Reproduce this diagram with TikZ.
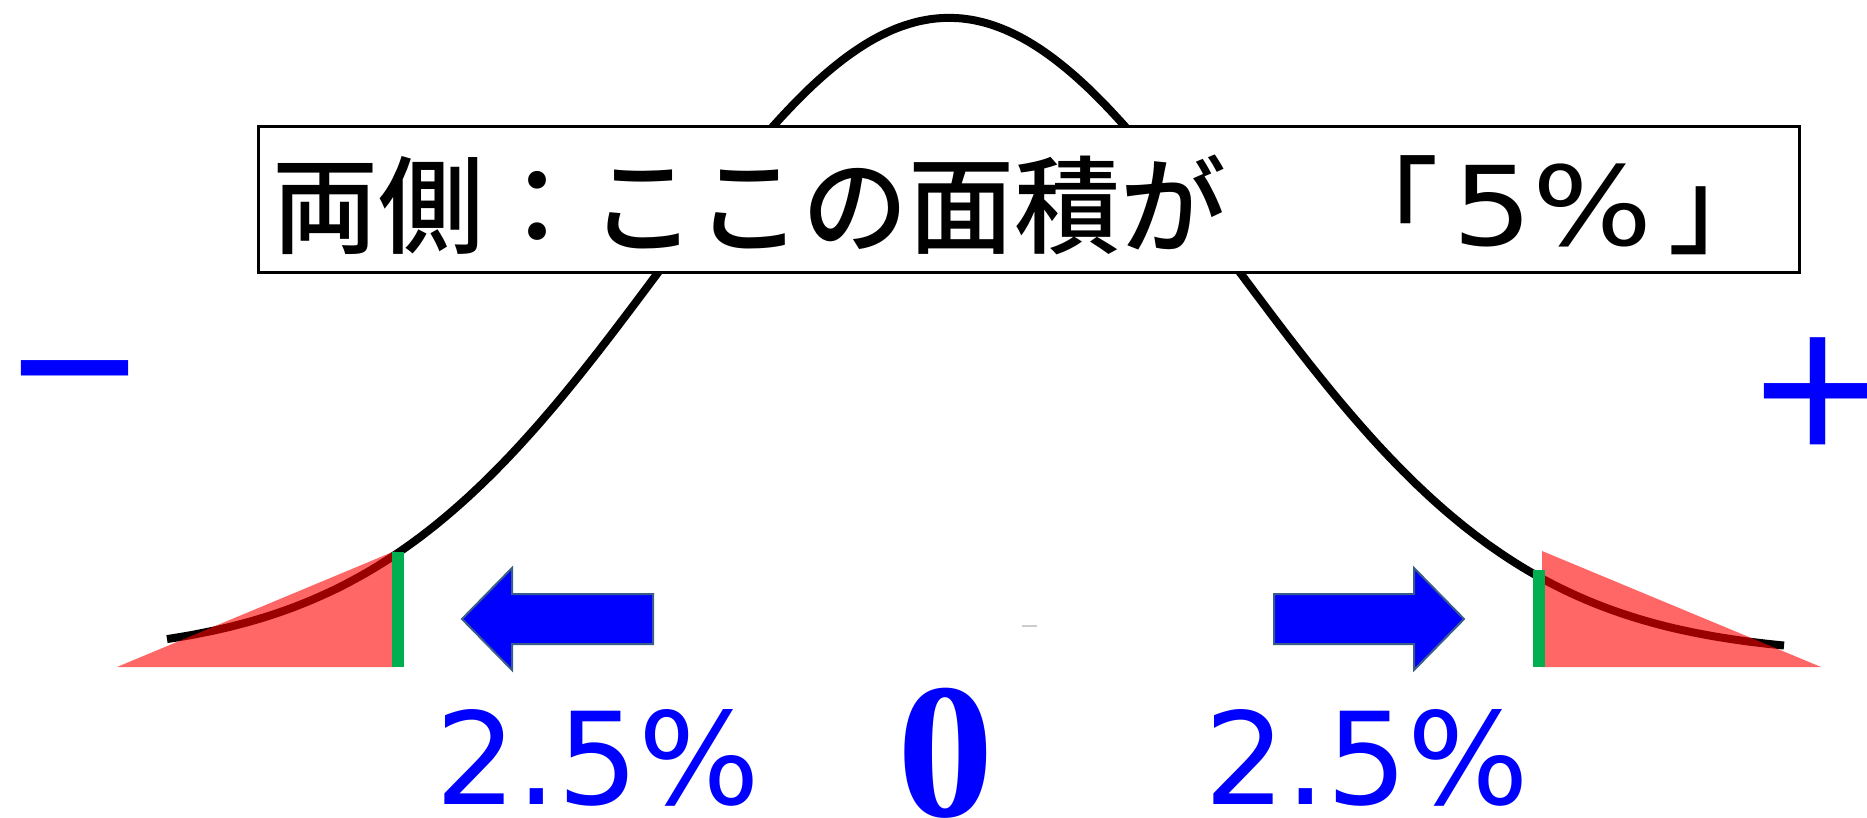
\documentclass[tikz,border=0pt]{standalone}
\usepackage{fontspec}
\newfontfamily\jpfont{Noto Sans CJK JP Medium}
\newfontfamily\jpbold{Noto Sans CJK JP Bold}
\newfontfamily\dvsfont{DejaVu Sans}
\newfontfamily\serfont{Liberation Serif}
\definecolor{outlineblue}{RGB}{56,93,138}
\definecolor{tailgreen}{RGB}{0,176,80}
\tikzset{
  curve/.style={line width=8pt, black},
  tailarea/.style={fill=red, fill opacity=0.6, draw=none},
  cutline/.style={draw=tailgreen, line width=12pt},
  blockarrow/.style={fill=blue, draw=outlineblue, line width=2pt, line join=miter},
  labelbox/.style={draw=black, line width=3pt, fill=white, inner sep=0pt},
  boxtext/.style={inner sep=0pt, font=\jpfont\fontsize{106}{110}\selectfont},
  pct/.style={inner sep=0pt, text=blue, font=\dvsfont\fontsize{128}{130}\selectfont},
  zero/.style={inner sep=0pt, text=blue, font=\serfont\bfseries\fontsize{193}{200}\selectfont},
  sign/.style={inner sep=0pt, text=blue, font=\jpbold\fontsize{151}{155}\selectfont}
}
\begin{document}
\begin{tikzpicture}[x=1pt,y=-1pt]
\useasboundingbox (0,0) rectangle (1867,818);
% normal curve
\draw[curve] plot[domain=167:1784, samples=300, smooth] (\x, {655-637*exp(-0.5*((\x-949)/288)^2)});
% tail areas
\fill[tailarea] (117,667) -- (395,551) -- (395,667) -- cycle;
\fill[tailarea] (1542,551) -- (1821,667) -- (1542,667) -- cycle;
% critical lines
\coordinate (lgtop) at (398,552);
\coordinate (lgbot) at (398,667);
\coordinate (rgtop) at (1538.5,570);
\coordinate (rgbot) at (1538.5,667);
\draw[cutline] (lgtop) -- (lgbot);
\draw[cutline] (rgtop) -- (rgbot);
% title box
\node[labelbox, minimum width=1541pt, minimum height=145.5pt] (box) at (1028.5,199.25) {};
\node[boxtext, anchor=base west] (title) at (272,246) {両側：ここの面積が　「\hspace{14pt}{\dvsfont\fontsize{110}{110}\selectfont\scalebox{1.15}[1]{5\%}}\hspace{16pt}」};
% block arrows
\draw[blockarrow] (462,619) -- (512,568) -- (512,594) -- (653,594) -- (653,644) -- (512,644) -- (512,670) -- cycle;
\draw[blockarrow] (1274,594) -- (1414,594) -- (1414,568) -- (1464,619) -- (1414,670) -- (1414,644) -- (1274,644) -- cycle;
% signs
\node[sign] (minus) at (75,393) {－};
\node[sign] (plus) at (1817.5,393) {＋};
% labels
\node[pct, anchor=base west] (lpct) at (435,804) {2.5\%};
\node[pct, anchor=base west] (rpct) at (1204,804) {2.5\%};
\node[zero, anchor=base] (zero) at (946,816) {0};
% small mark
\draw[gray!40, line width=2pt] (1022,626) -- (1037,626);
\end{tikzpicture}
\end{document}
